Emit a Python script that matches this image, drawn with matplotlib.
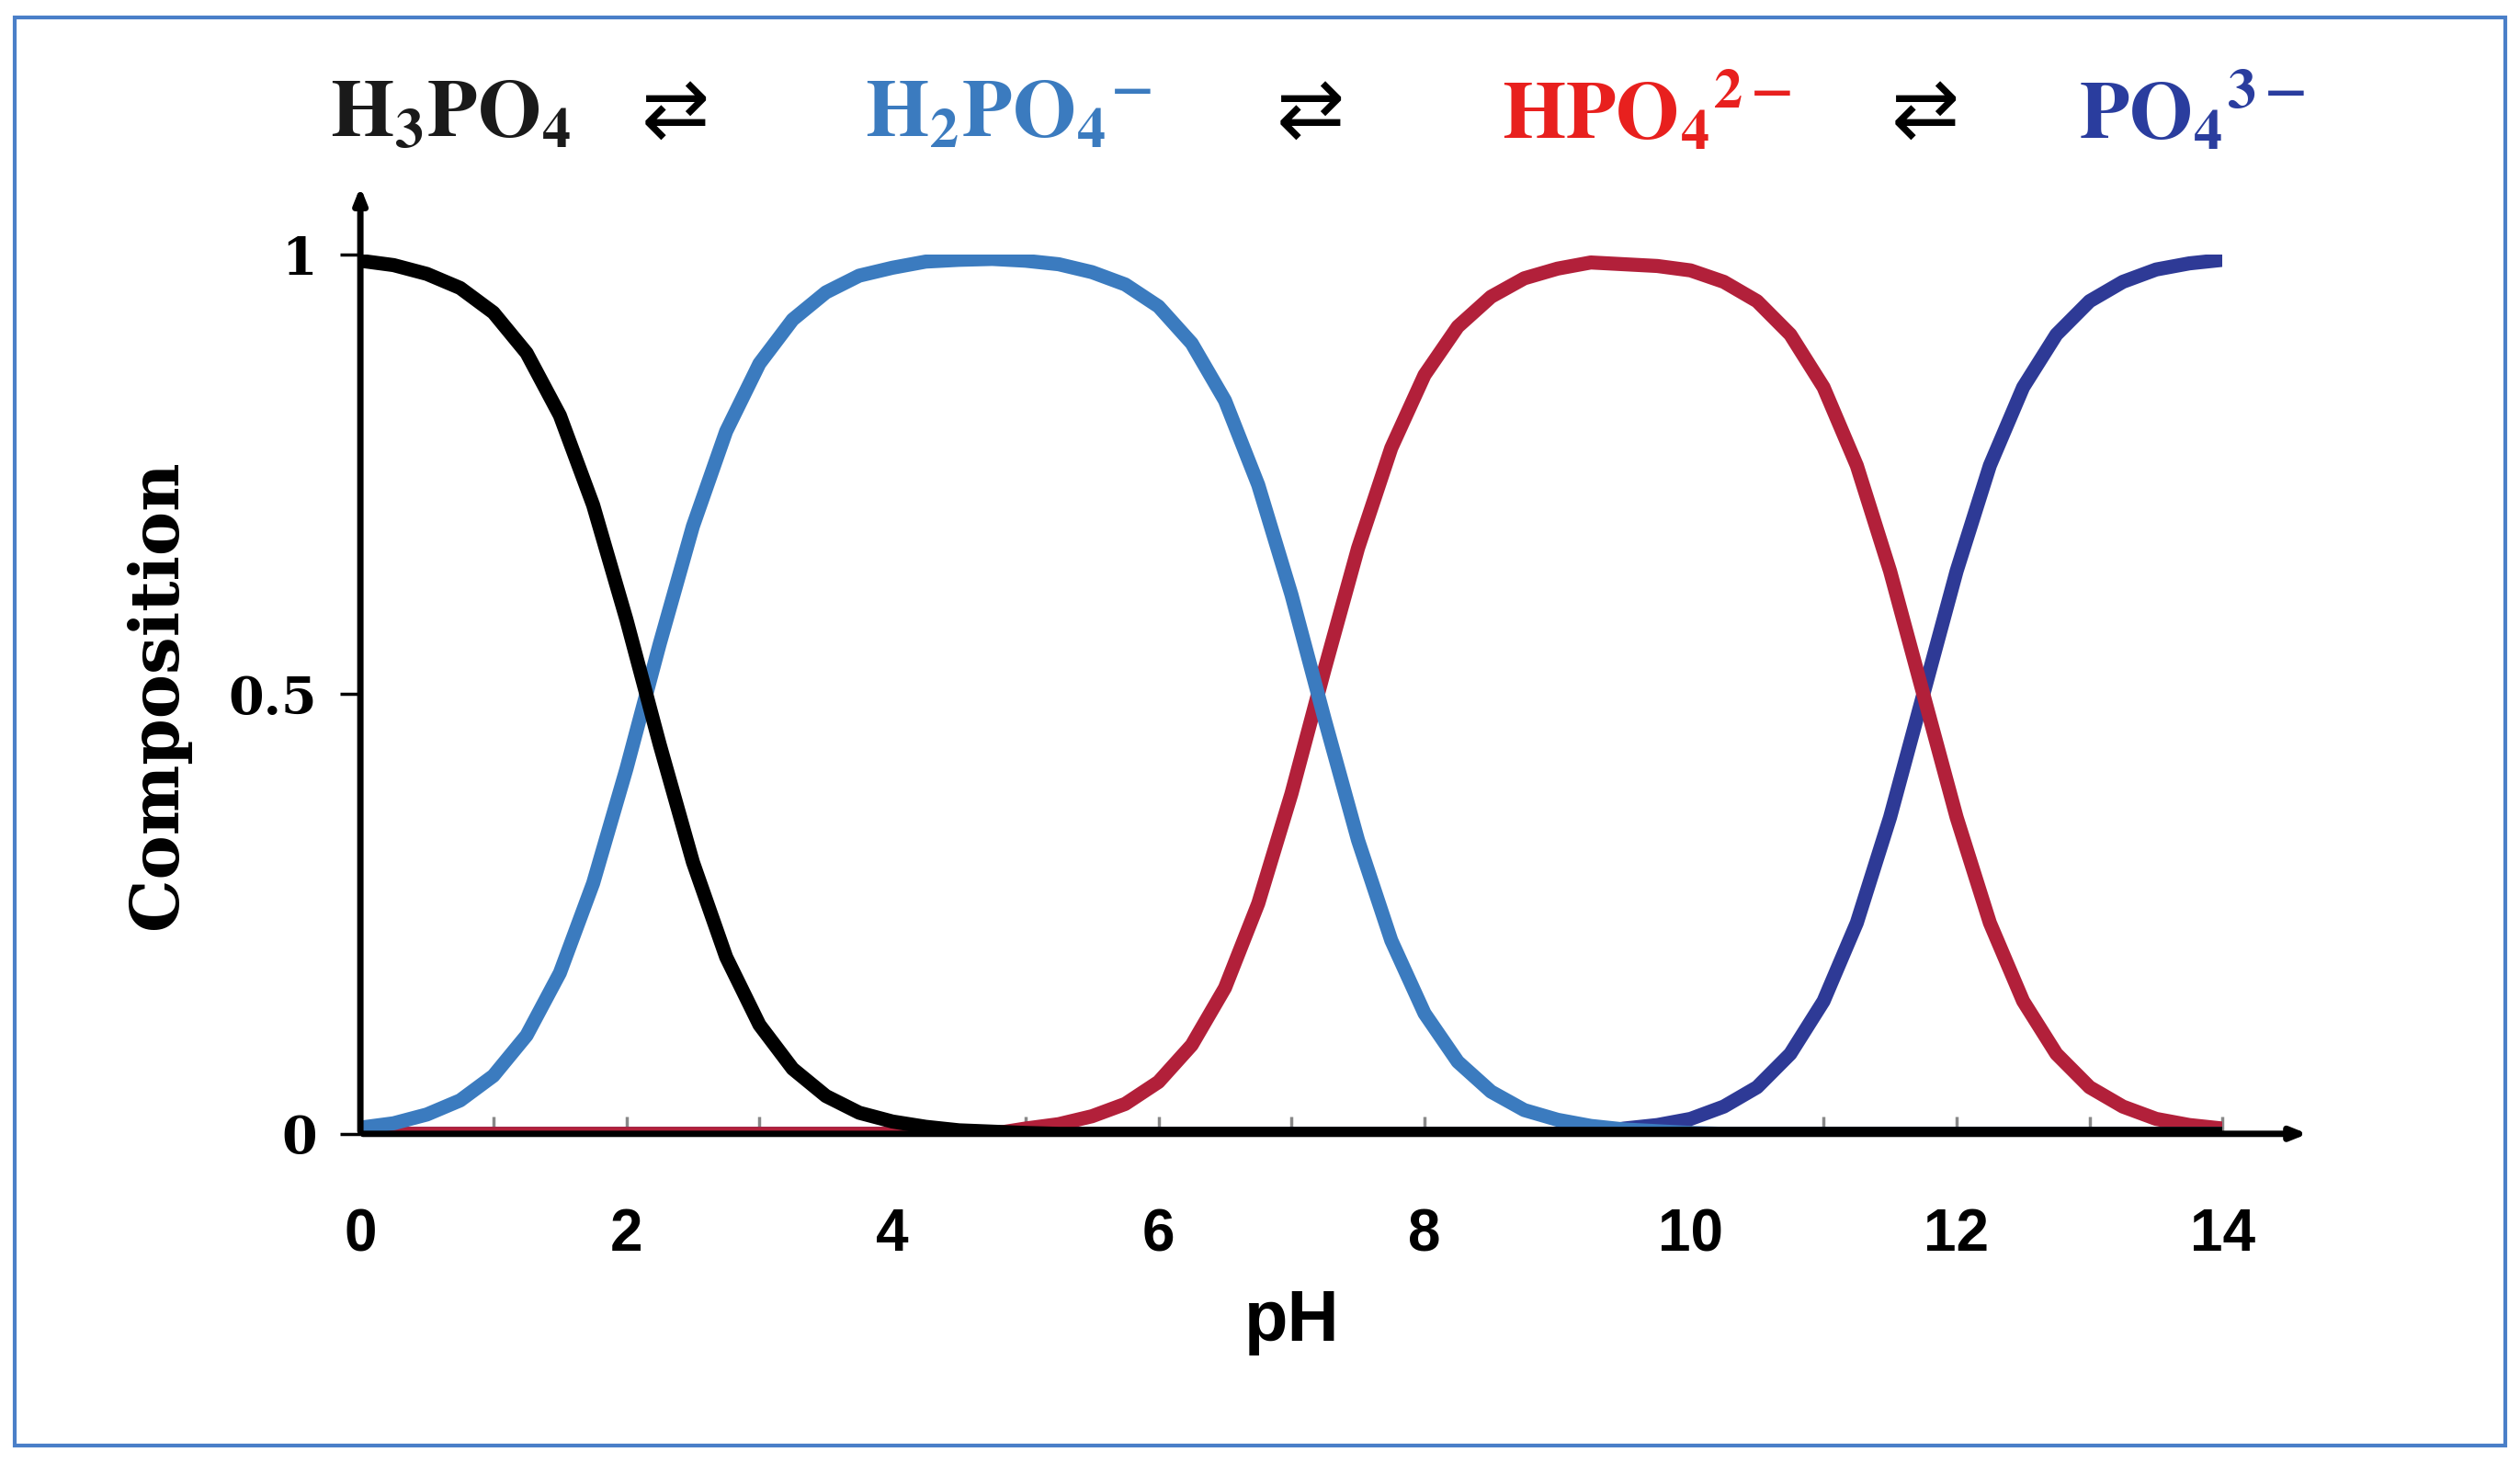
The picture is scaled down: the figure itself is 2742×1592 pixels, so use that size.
import matplotlib
matplotlib.use("Agg")
import matplotlib.pyplot as plt
from matplotlib.patches import Rectangle

pH = [0,0.25,0.5,0.75,1,1.25,1.5,1.75,2,2.25,2.5,2.75,3,3.25,3.5,3.75,4,4.25,4.5,4.75,
      5,5.25,5.5,5.75,6,6.25,6.5,6.75,7,7.25,7.5,7.75,8,8.25,8.5,8.75,9,9.25,9.5,9.75,
      10,10.25,10.5,10.75,11,11.25,11.5,11.75,12,12.25,12.5,12.75,13,13.25,13.5,13.75,14]
h3po4 = [0.993,0.988,0.978,0.962,0.934,0.888,0.817,0.715,0.585,0.443,0.309,0.201,0.124,0.074,
         0.043,0.024,0.014,0.008,0.004,0.0025,0.001] + [0]*36
h2po4 = [0.007,0.012,0.022,0.038,0.066,0.112,0.183,0.285,0.415,
         0.557,0.691,0.799,0.876,0.926,0.957,0.976,0.985,
         0.992,0.994,0.995,0.993,0.989,0.980,0.966,0.941,
         0.899,0.834,0.738,0.613,0.471,0.334,0.220,0.137,
         0.082,0.048,0.027,0.016,0.009,0.005,0.003,0.001] + [0]*16
hpo4 = [0]*20 + [0.006,0.011,0.020,0.034,0.059,0.101,0.166,0.262,0.387,0.529,0.666,0.780,0.863,
                 0.918,0.952,0.973,0.984,0.991,0.989,0.987,0.982,0.969,0.947,0.909,0.849,
                 0.760,0.640,0.5,0.360,0.240,0.151,0.091,0.053,0.031,0.017,0.010,0.006]
po4 = [0]*38 + [0.006,0.010,0.017,0.031,0.053,0.091,0.151,0.240,0.360,0.5,0.640,0.760,0.849,
                0.909,0.947,0.969,0.983,0.990,0.994]
xticks = [0,2,4,6,8,10,12,14]
yticks = [0,0.5,1]
ytlabels = ["0","0.5","1"]

plt.rcParams['mathtext.fontset'] = 'stix'
fig = plt.figure(figsize=(27.42,15.92), dpi=100)
fig.patches.append(Rectangle((0.006,0.012),0.988,0.976, transform=fig.transFigure,
                             fill=False, edgecolor='#4a7fc8', linewidth=3))
ax = fig.add_axes([0.143,0.225,0.739,0.601])
ax.set_xlim(0,14); ax.set_ylim(0,1)
for s in ax.spines.values(): s.set_visible(False)
lw = 11
ax.plot(pH, po4, color='#2e3a96', lw=lw, solid_capstyle='round')
ax.plot(pH, hpo4, color='#b2203a', lw=lw, solid_capstyle='round')
ax.plot(pH, h2po4, color='#3b7bbf', lw=lw, solid_capstyle='round')
ax.plot(pH, h3po4, color='black', lw=lw, solid_capstyle='round')
ax.annotate('', xy=(1.047,0), xytext=(0,0), xycoords='axes fraction',
            arrowprops=dict(arrowstyle='-|>,head_length=1.0,head_width=0.4', lw=5, color='black'))
ax.annotate('', xy=(0,1.08), xytext=(0,0), xycoords='axes fraction',
            arrowprops=dict(arrowstyle='-|>,head_length=1.0,head_width=0.4', lw=5, color='black'))
ax.set_xticks(xticks)
ax.set_xticks([x+1 for x in xticks[:-1]], minor=True)
ax.tick_params(axis='x', which='both', direction='in', length=14, width=2.5, pad=58, colors='#888888', labelcolor='black')
ax.set_xticklabels([str(x) for x in xticks], fontsize=46, fontweight='bold', family='Liberation Sans')
ax.set_yticks(yticks)
ax.set_yticklabels(ytlabels, fontsize=40, fontweight='bold', family='DejaVu Serif')
ax.tick_params(axis='y', direction='out', length=16, width=2.5, pad=18)
ax.set_xlabel('pH', fontsize=56, fontweight='bold', family='Liberation Sans', labelpad=20)
ax.set_ylabel('Composition', fontsize=52, fontweight='bold', family='DejaVu Serif', labelpad=30)

ty = 0.922
fs = 64
fig.text(0.131, ty, r'$\mathbf{H_3PO_4}$', fontsize=fs, color='#1a1a1a', va='center')
fig.text(0.268, ty, '⇄', fontsize=64, color='black', va='center', ha='center')
fig.text(0.343, ty, r'$\mathbf{H_2PO_4{}^{-}}$', fontsize=fs, color='#3b7bbf', va='center')
fig.text(0.520, ty, '⇄', fontsize=64, color='black', va='center', ha='center')
fig.text(0.596, ty, r'$\mathbf{HPO_4{}^{2-}}$', fontsize=fs, color='#e8201e', va='center')
fig.text(0.764, ty, '⇄', fontsize=64, color='black', va='center', ha='center')
fig.text(0.825, ty, r'$\mathbf{PO_4{}^{3-}}$', fontsize=fs, color='#2a3d9e', va='center')
fig.savefig('out.png', dpi=100)
